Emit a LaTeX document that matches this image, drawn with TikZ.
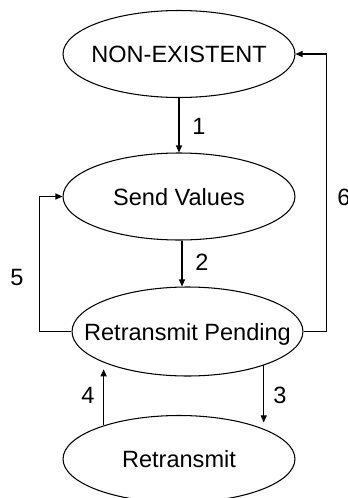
\documentclass[tikz,border=0pt]{standalone}
\usepackage{fontspec}
\setmainfont{Liberation Sans}
\usetikzlibrary{shapes.geometric,arrows.meta}

\begin{document}
\begin{tikzpicture}[x=0.02cm, y=-0.02cm, line width=0.6pt,
    font=\fontsize{13.4}{16}\selectfont,
    state/.style={draw, ellipse, inner sep=0pt, minimum width=4.64cm, minimum height=1.74cm, text height=9.7pt, text depth=0pt},
    arr/.style={-{Triangle[length=0.14cm, width=0.12cm]}}]
    \useasboundingbox (0,0) rectangle (348,498);

    % Nodes
    \node[state] (node1) at (179,54) {\makebox[0pt]{NON-EXISTENT}};
    \node[state] (node2) at (179,196.5) {\makebox[0pt]{Send Values}};
    \node[state, minimum width=4.62cm, minimum height=1.78cm] (node3) at (187.5,331.5) {\makebox[0pt]{Retransmit Pending}};
    \node[state] (node4) at (179,459) {\makebox[0pt]{Retransmit}};

    % Numbers
    \node (num1) at (199,126) {1};
    \node (num2) at (202,262) {2};
    \node (num3) at (280,395) {3};
    \node (num4) at (88,395) {4};
    \node (num5) at (17,278) {5};
    \node (num6) at (344,197) {6};

    % Connection
    \draw[arr] (node1.south) -- (node2.north);
    \draw[arr] ([xshift=0.06cm]node2.south) -- ([xshift=0.06cm]node2.south |- node3.north);
    \draw[arr, shorten >=0.12cm] (node3.-24) -- (node3.-24 |- node4.20);
    \draw[arr, shorten >=0.14cm] (node4.156) -- (node4.156 |- node3.200);
    \draw[arr] (node3.west) -- ++(-32,0) |- (node2.west);
    \draw[arr] (node3.east) -- ++(23,0) |- (node1.east);
  \end{tikzpicture}
\end{document}
